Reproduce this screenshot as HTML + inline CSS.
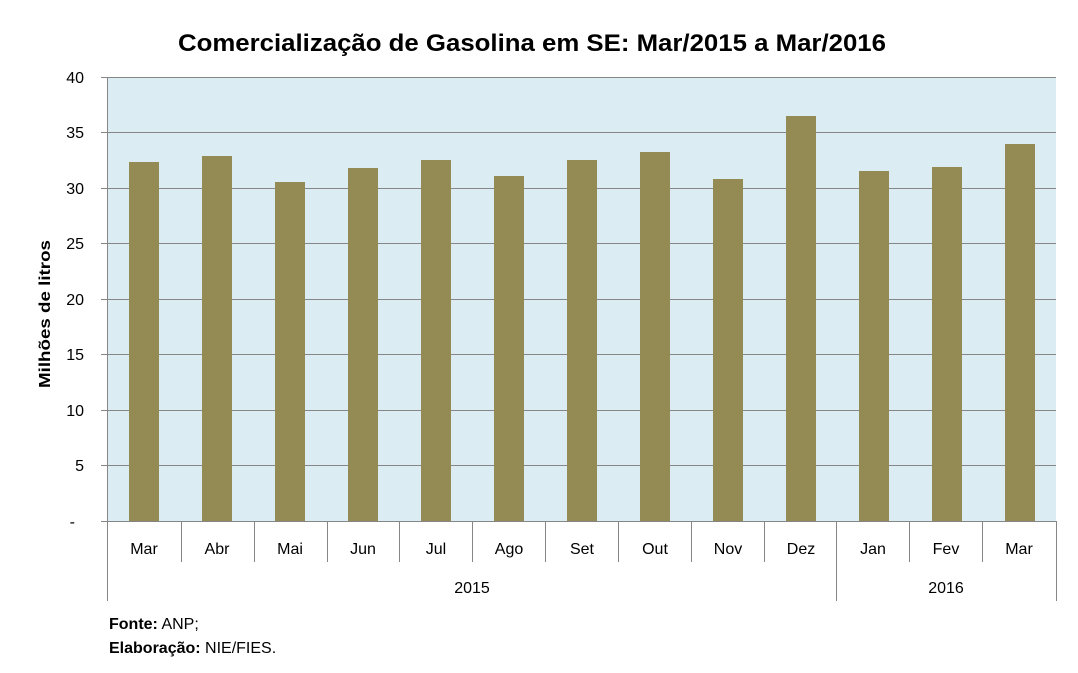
<!DOCTYPE html>
<html><head><meta charset="utf-8"><style>
html,body{margin:0;padding:0;background:#fff;}
svg{display:block;font-family:"Liberation Sans",sans-serif;}
</style></head><body>
<svg width="1078" height="673" viewBox="0 0 1078 673" xmlns="http://www.w3.org/2000/svg">
<rect x="0" y="0" width="1078" height="673" fill="#fff"/>
<text x="532" y="51" text-anchor="middle" font-size="24" font-weight="bold" textLength="708" lengthAdjust="spacingAndGlyphs" fill="#000">Comercialização de Gasolina em SE: Mar/2015 a Mar/2016</text>
<rect x="108" y="77" width="948" height="444" fill="#dbecf2"/>
<g stroke="#868686" stroke-width="1">
<line x1="101" y1="77.5" x2="1056" y2="77.5"/>
<line x1="101" y1="132.5" x2="1056" y2="132.5"/>
<line x1="101" y1="188.5" x2="1056" y2="188.5"/>
<line x1="101" y1="243.5" x2="1056" y2="243.5"/>
<line x1="101" y1="299.5" x2="1056" y2="299.5"/>
<line x1="101" y1="354.5" x2="1056" y2="354.5"/>
<line x1="101" y1="410.5" x2="1056" y2="410.5"/>
<line x1="101" y1="465.5" x2="1056" y2="465.5"/>
</g>
<g fill="#948a54">
<rect x="129" y="162" width="30" height="359"/>
<rect x="202" y="156" width="30" height="365"/>
<rect x="275" y="182" width="30" height="339"/>
<rect x="348" y="168" width="30" height="353"/>
<rect x="421" y="160" width="30" height="361"/>
<rect x="494" y="176" width="30" height="345"/>
<rect x="567" y="160" width="30" height="361"/>
<rect x="640" y="152" width="30" height="369"/>
<rect x="713" y="179" width="30" height="342"/>
<rect x="786" y="116" width="30" height="405"/>
<rect x="859" y="171" width="30" height="350"/>
<rect x="932" y="167" width="30" height="354"/>
<rect x="1005" y="144" width="30" height="377"/>
</g>
<g stroke="#868686" stroke-width="1">
<line x1="107.5" y1="77" x2="107.5" y2="601"/>
<line x1="1056.5" y1="521" x2="1056.5" y2="601"/>
<line x1="101" y1="521.5" x2="1056" y2="521.5"/>
<line x1="181.5" y1="521" x2="181.5" y2="562"/>
<line x1="254.5" y1="521" x2="254.5" y2="562"/>
<line x1="327.5" y1="521" x2="327.5" y2="562"/>
<line x1="399.5" y1="521" x2="399.5" y2="562"/>
<line x1="472.5" y1="521" x2="472.5" y2="562"/>
<line x1="545.5" y1="521" x2="545.5" y2="562"/>
<line x1="618.5" y1="521" x2="618.5" y2="562"/>
<line x1="691.5" y1="521" x2="691.5" y2="562"/>
<line x1="764.5" y1="521" x2="764.5" y2="562"/>
<line x1="836.5" y1="521" x2="836.5" y2="601"/>
<line x1="909.5" y1="521" x2="909.5" y2="562"/>
<line x1="982.5" y1="521" x2="982.5" y2="562"/>
</g>
<g font-size="16" fill="#000" text-anchor="end">
<text x="84" y="83">40</text>
<text x="84" y="138">35</text>
<text x="84" y="194">30</text>
<text x="84" y="249">25</text>
<text x="84" y="305">20</text>
<text x="84" y="360">15</text>
<text x="84" y="416">10</text>
<text x="84" y="471">5</text>
<text x="75" y="527">-</text>
</g>
<g font-size="16" fill="#000" text-anchor="middle">
<text x="144" y="554">Mar</text>
<text x="217" y="554">Abr</text>
<text x="290" y="554">Mai</text>
<text x="363" y="554">Jun</text>
<text x="436" y="554">Jul</text>
<text x="509" y="554">Ago</text>
<text x="582" y="554">Set</text>
<text x="655" y="554">Out</text>
<text x="728" y="554">Nov</text>
<text x="801" y="554">Dez</text>
<text x="873" y="554">Jan</text>
<text x="946" y="554">Fev</text>
<text x="1019" y="554">Mar</text>
<text x="472" y="593">2015</text>
<text x="946" y="593">2016</text>
</g>
<text transform="translate(50,314) rotate(-90)" text-anchor="middle" font-size="16" font-weight="bold" textLength="148" lengthAdjust="spacingAndGlyphs">Milhões de litros</text>
<text x="109" y="629" font-size="16"><tspan font-weight="bold">Fonte:</tspan> ANP;</text>
<text x="109" y="653" font-size="16"><tspan font-weight="bold">Elaboração:</tspan> NIE/FIES.</text>
</svg>
</body></html>
